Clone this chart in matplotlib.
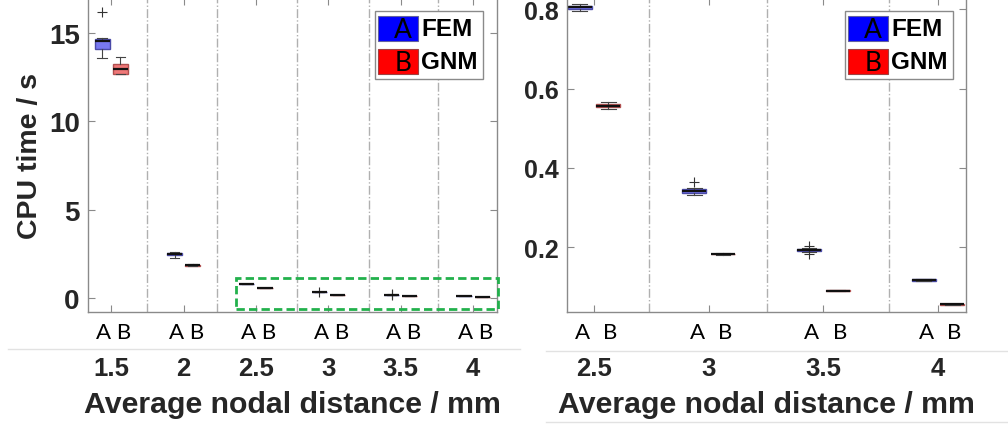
import matplotlib
matplotlib.use("Agg")
import matplotlib.pyplot as plt
import matplotlib.transforms as mtransforms
from matplotlib.patches import Rectangle
from matplotlib.lines import Line2D

W, H = 1008, 427

# data (CPU time / s)
groups = ['1.5', '2', '2.5', '3', '3.5', '4']
methods = ['FEM', 'GNM']
letters = ['A', 'B']

fem_lo = [13.58, 2.28, 0.795, 0.331, 0.187, 0.114]
fem_q1 = [14.10, 2.42, 0.801, 0.336, 0.191, 0.115]
fem_med = [14.55, 2.50, 0.805, 0.341, 0.194, 0.117]
fem_q3 = [14.68, 2.55, 0.808, 0.346, 0.196, 0.119]
fem_hi = [14.72, 2.58, 0.812, 0.350, 0.198, 0.120]
fem_out = [[16.2], [], [], [0.364], [0.203, 0.184], []]

gnm_lo = [12.68, 1.80, 0.549, 0.181, 0.089, 0.054]
gnm_q1 = [12.70, 1.84, 0.553, 0.182, 0.090, 0.055]
gnm_med = [12.96, 1.87, 0.557, 0.183, 0.091, 0.056]
gnm_q3 = [13.22, 1.89, 0.561, 0.184, 0.092, 0.057]
gnm_hi = [13.66, 1.95, 0.565, 0.185, 0.093, 0.058]
gnm_out = [[], [], [], [], [], []]

left_yticks = [0, 5, 10, 15]
right_yticks = [0.2, 0.4, 0.6, 0.8]

FEM_FACE = '#7878f0'
FEM_EDGE = '#4a4aa8'
GNM_FACE = '#f07878'
GNM_EDGE = '#b05050'
TXT = '#262626'
SPINE = '#8a8a8a'


def make_stats(lo, q1, med, q3, hi, out, idx):
    return [dict(whislo=lo[i], q1=q1[i], med=med[i], q3=q3[i], whishi=hi[i],
                 fliers=out[i]) for i in idx]


def draw_panel(ax, idx, xlim, ylim, yticks, seps, tick_fs, wide_letters):
    pos = list(range(1, len(idx) + 1))
    off = 0.125
    common = dict(widths=0.21, capwidths=0.13, patch_artist=True,
                  manage_ticks=False,
                  medianprops=dict(color='#111111', lw=1.6),
                  whiskerprops=dict(color='#444444', lw=0.8),
                  capprops=dict(color='#444444', lw=0.8),
                  flierprops=dict(marker='+', markeredgecolor='#333333',
                                  markersize=7, markeredgewidth=0.8))
    ax.bxp(make_stats(fem_lo, fem_q1, fem_med, fem_q3, fem_hi, fem_out, idx),
           positions=[p - off for p in pos],
           boxprops=dict(facecolor=FEM_FACE, edgecolor=FEM_EDGE, lw=1), **common)
    ax.bxp(make_stats(gnm_lo, gnm_q1, gnm_med, gnm_q3, gnm_hi, gnm_out, idx),
           positions=[p + off for p in pos],
           boxprops=dict(facecolor=GNM_FACE, edgecolor=GNM_EDGE, lw=1), **common)

    for s in seps:
        ax.axvline(s, color='#b0b0b0', lw=1, ls='-.', zorder=0)

    ax.set_xlim(*xlim)
    ax.set_ylim(*ylim)
    ax.set_xticks(pos)
    ax.set_xticklabels([])
    ax.set_yticks(yticks)
    ax.set_yticklabels([f'{t:g}' for t in yticks], fontsize=tick_fs,
                       fontweight='bold', color=TXT, family='Liberation Sans')
    ax.tick_params(direction='in', length=5, width=0.8, color=SPINE,
                   top=True, right=True, bottom=True, left=True, pad=6)
    for sp in ax.spines.values():
        sp.set_color(SPINE)
        sp.set_linewidth(1)

    # letters and group labels under the axes
    tr = mtransforms.blended_transform_factory(ax.transData, fig.transFigure)
    for k, i in enumerate(idx):
        p = pos[k]
        if wide_letters:
            ax.text(p - off + 0.025, 1 - 333 / H, letters[0], transform=tr, ha='center',
                    va='center', fontsize=16, family='Lato', color='black')
            ax.text(p + off + 0.02, 1 - 333 / H, letters[1], transform=tr, ha='center',
                    va='center', fontsize=16, family='Lato', color='black')
        else:
            ax.text(p + 0.04, 1 - 333 / H, ' '.join(letters), transform=tr, ha='center',
                    va='center', fontsize=16, family='Lato', color='black')
        ax.text(p, 1 - 369 / H, groups[i], transform=tr, ha='center', va='center',
                fontsize=18.5, fontweight='bold', family='Liberation Sans', color=TXT)


def draw_legend(x0, y0):
    # x0, y0: top-left corner of the legend box in pixels
    def r(x, y, w, h, **kw):
        fig.add_artist(Rectangle((x / W, 1 - (y + h) / H), w / W, h / H,
                                 transform=fig.transFigure, **kw))
    r(x0, y0, 108, 68, facecolor='white', edgecolor='#8a8a8a', lw=1, zorder=5)
    faces = ['#0000ff', '#ff0000']
    for j in range(2):
        yy = y0 + 5 + j * 33
        r(x0 + 3, yy, 40, 25, facecolor=faces[j], edgecolor='#6060a0' if j == 0 else '#a04040',
          lw=0.8, zorder=6)
        fig.text((x0 + 28) / W, 1 - (yy + 14) / H, letters[j], ha='center', va='center',
                 fontsize=19, family='Lato', color='black', zorder=7)
        fig.text((x0 + 46) / W, 1 - (yy + 13) / H, methods[j], ha='left', va='center',
                 fontsize=17.5, fontweight='bold', family='Liberation Sans',
                 color='black', zorder=7)


fig = plt.figure(figsize=(W / 100, H / 100), dpi=100)

axL = fig.add_axes([88 / W, 1 - 313 / H, (497 - 88) / W, 314 / H])
draw_panel(axL, [0, 1, 2, 3, 4, 5], (0.68, 6.33), (-0.79, 16.98), left_yticks,
           [1.50, 2.46, 3.57, 4.56, 5.52], 20, False)
axL.add_patch(Rectangle((2.727, -0.61), 6.345 - 2.727, 1.76, fill=False,
                        edgecolor='#22b14c', lw=2, ls=(0, (3, 1.5)), clip_on=False,
                        zorder=4))

axR = fig.add_axes([567 / W, 1 - 313 / H, (966 - 567) / W, 314 / H])
draw_panel(axR, [2, 3, 4, 5], (0.765, 4.244), (0.037, 0.828), right_yticks,
           [1.48, 2.51, 3.57], 18, True)

draw_legend(375, 12)
draw_legend(845, 12)

# y label and x labels
fig.text(30 / W, 1 - 156 / H, 'CPU time / s', rotation=90, ha='center', va='center',
         fontsize=20.5, fontweight='bold', family='Liberation Sans', color=TXT)
fig.text(292 / W, 1 - 405 / H, 'Average nodal distance / mm', ha='center', va='center',
         fontsize=21.8, fontweight='bold', family='Liberation Sans', color=TXT)
fig.text(766 / W, 1 - 405 / H, 'Average nodal distance / mm', ha='center', va='center',
         fontsize=21.8, fontweight='bold', family='Liberation Sans', color=TXT)

# thin separator lines between the label rows
for (xa, xb, y) in [(8, 520, 350), (546, 1008, 352), (546, 1008, 423)]:
    fig.add_artist(Line2D([xa / W, xb / W], [1 - y / H, 1 - y / H],
                          transform=fig.transFigure, color='#e2e2e2', lw=1))

fig.savefig('out.png', dpi=100)
